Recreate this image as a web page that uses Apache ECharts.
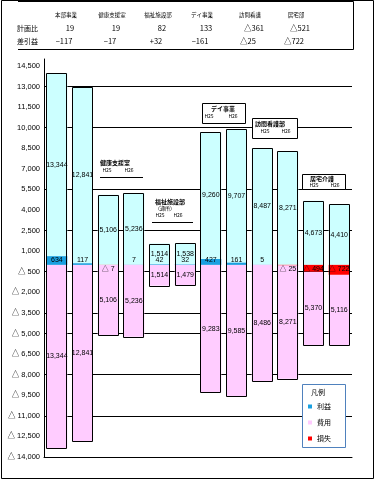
<!DOCTYPE html>
<html><head><meta charset="utf-8">
<script src="https://cdn.jsdelivr.net/npm/echarts@6/dist/echarts.min.js"></script>
<style>html,body{margin:0;padding:0;background:#fff}#c{width:377px;height:480px}</style>
</head><body><div id="c"></div>
<script>
// ---- data ----
const categories = ['本部H25','本部H26','健康H25','健康H26','福祉H25','福祉H26','デイH25','デイH26','訪看H25','訪看H26','居宅H25','居宅H26'];
const profit      = [634, 117, null, 7, 42, 32, 427, 161, 5, null, null, null];
const revenuePart = [13344, 12841, 5106, 5236, 1514, 1538, 9260, 9707, 8487, 8271, 4673, 4410];
const loss        = [null, null, -7, null, null, null, null, null, null, -25, -494, -722];
const costPart    = [-13344, -12841, -5106, -5236, -1514, -1479, -9283, -9585, -8486, -8271, -5370, -5116];
const yTicks = [14500, 13000, 11500, 10000, 8500, 7000, 5500, 4000, 2500, 1000, -500, -2000, -3500, -5000, -6500, -8000, -9500, -11000, -12500, -14000];
const gridValues = [13000, 10000, 5500, 2500, -500, -3500, -5000, -8000, -11000];
const tableHeaders = ['本部事業', '健康支援室', '福祉施設部', 'デイ事業', '訪問看護', '居宅部'];
const tableRowLabels = ['計画比', '差引益'];
const tableRow1 = ['19', '19', '82', '133', '△361', '△521'];
const tableRow2 = ['−117', '−17', '+32', '−161', '△25', '△722'];
const legendNames = ['利益', '費用', '損失'];
const legendTitle = '凡例';
const yearLabels = ['H25', 'H26'];

// ---- helpers ----
const NUMF = '"Liberation Sans","Noto Sans CJK JP",sans-serif';
const JPF = '"Noto Sans CJK JP",sans-serif';
const fmt = n => String(Math.abs(n)).replace(/\B(?=(\d{3})+(?!\d))/g, ',');
const tri = n => (n < 0 ? '△ ' : '') + fmt(n);

function txt(t, x, y, size, align, opts) {
  return Object.assign({type: 'text', z: 20, silent: true,
    style: {text: t, x: x, y: y, fill: '#000', fontSize: size, fontFamily: JPF,
      align: align || 'center', verticalAlign: 'middle'}}, opts || {});
}
function line(x1, y1, x2, y2) {
  return {type: 'line', z: 20, silent: true, shape: {x1, y1, x2, y2}, style: {stroke: '#000', lineWidth: 1}};
}
function box(x, y, w, h, stroke) {
  return {type: 'rect', z: 3, silent: true, shape: {x, y, width: w, height: h},
    style: {fill: '#fff', stroke: stroke || '#000', lineWidth: 1}};
}

const graphics = [];
// outer frame
graphics.push({type: 'rect', z: 30, silent: true, shape: {x: 1.5, y: 0.5, width: 372, height: 478}, style: {fill: 'none', stroke: '#000', lineWidth: 1}});
// top table
graphics.push({type: 'polyline', z: 20, silent: true, shape: {points: [[18, 1.5], [353.5, 1.5], [353.5, 49.5], [18, 49.5]]}, style: {fill: 'none', stroke: '#000', lineWidth: 1}});
const colX = [66, 112, 158, 202, 250, 296];
tableHeaders.forEach((h, i) => graphics.push(txt(h, colX[i], 15, 5.5)));
graphics.push(txt(tableRowLabels[0], 17, 28, 7, 'left'));
graphics.push(txt(tableRowLabels[1], 17, 41, 7, 'left'));
tableRow1.forEach((v, i) => graphics.push(txt(v, colX[i] + 4, 28, 7.5)));
tableRow2.forEach((v, i) => graphics.push(txt(v, colX[i] - 2, 41, 7.5)));

// group labels
// group 2
graphics.push(txt('健康支援室', 100, 163, 6, 'left', {style: {text: '健康支援室', x: 100, y: 163, fill: '#000', fontSize: 6, fontWeight: 'bold', fontFamily: JPF, align: 'left', verticalAlign: 'middle'}}));
graphics.push(txt(yearLabels[0], 107, 170.5, 5));
graphics.push(txt(yearLabels[1], 129, 170.5, 5));
graphics.push(line(100, 177.5, 143, 177.5));
// group 3
graphics.push(txt('福祉施設部', 155, 202, 6, 'left', {style: {text: '福祉施設部', x: 155, y: 202, fill: '#000', fontSize: 6, fontWeight: 'bold', fontFamily: JPF, align: 'left', verticalAlign: 'middle'}}));
graphics.push(txt('（通所）', 155, 208.5, 5, 'left'));
graphics.push(txt(yearLabels[0], 160, 215, 5));
graphics.push(txt(yearLabels[1], 178, 215, 5));
graphics.push(line(152, 222.5, 193, 222.5));
// group 4 box
graphics.push(box(202.5, 103.5, 43, 20));
graphics.push(txt('デイ事業', 223, 108.5, 6, 'center', {style: {text: 'デイ事業', x: 223, y: 108.5, fill: '#000', fontSize: 6, fontWeight: 'bold', fontFamily: JPF, align: 'center', verticalAlign: 'middle'}}));
graphics.push(txt(yearLabels[0], 209, 116.5, 5));
graphics.push(txt(yearLabels[1], 233, 116.5, 5));
// group 5 box
graphics.push(box(252.5, 118.5, 45, 20));
graphics.push(txt('訪問看護部', 255, 123.5, 6, 'left', {style: {text: '訪問看護部', x: 255, y: 123.5, fill: '#000', fontSize: 6, fontWeight: 'bold', fontFamily: JPF, align: 'left', verticalAlign: 'middle'}}));
graphics.push(txt(yearLabels[0], 265, 131.5, 5));
graphics.push(txt(yearLabels[1], 286, 131.5, 5));
// group 6 box
graphics.push(box(302.5, 174.5, 43, 15));
graphics.push(txt('居宅介護', 322, 179, 6, 'center', {style: {text: '居宅介護', x: 322, y: 179, fill: '#000', fontSize: 6, fontWeight: 'bold', fontFamily: JPF, align: 'center', verticalAlign: 'middle'}}));
graphics.push(txt(yearLabels[0], 314, 185.5, 5));
graphics.push(txt(yearLabels[1], 335, 185.5, 5));
// legend box
graphics.push(box(302.5, 384.5, 43, 63, '#4f81bd'));
graphics.push(txt(legendTitle, 311, 392, 7, 'left'));

const outlineData = categories.map((c, i) => [i, (revenuePart[i] || 0) + (profit[i] || 0), (costPart[i] || 0) + (loss[i] || 0)]);

const labelBase = {show: true, fontSize: 7, color: '#000', fontFamily: NUMF};

const chart = echarts.init(document.getElementById('c'), null, {renderer: 'canvas'});
chart.setOption({
  animation: false,
  backgroundColor: '#fff',
  grid: {left: 44, right: 25, top: 59, bottom: 23, containLabel: false},
  graphic: graphics,
  legend: {
    data: legendNames, orient: 'vertical', left: 308, top: 402, itemWidth: 4, itemHeight: 4,
    itemGap: 7, icon: 'rect', padding: 0, z: 5,
    textStyle: {fontSize: 7, lineHeight: 9, color: '#000', fontFamily: JPF}
  },
  xAxis: {
    type: 'category', data: categories,
    axisLine: {show: true, onZero: false, lineStyle: {color: '#000', width: 1}},
    axisTick: {show: false}, axisLabel: {show: false}, splitLine: {show: false}
  },
  yAxis: {
    type: 'value', min: -14000, max: 15000,
    axisLine: {show: true, lineStyle: {color: '#000', width: 1}},
    axisTick: {show: false}, splitLine: {show: false},
    axisLabel: {customValues: yTicks, fontSize: 7.5, color: '#000', fontFamily: NUMF, margin: 4, formatter: v => tri(v)}
  },
  series: [
    {name: '利益', type: 'bar', stack: 'total', barWidth: 21, z: 3, data: profit,
      itemStyle: {color: '#1aa0e0'},
      label: Object.assign({}, labelBase, {position: 'insideBottom', distance: 1, formatter: p => fmt(p.value)}),
      markLine: {silent: true, z: 1, symbol: ['none', 'none'], label: {show: false},
        lineStyle: {color: '#000', width: 1, type: 'solid'},
        data: gridValues.map(v => ({yAxis: v}))}
    },
    {name: '収益', type: 'bar', stack: 'total', barWidth: 21, z: 2, data: revenuePart,
      itemStyle: {color: '#ccffff'},
      label: Object.assign({}, labelBase, {position: 'inside', formatter: p => fmt(p.value)})
    },
    {name: '損失', type: 'bar', stack: 'total', barWidth: 21, z: 3, data: loss,
      itemStyle: {color: '#ff0000'},
      label: Object.assign({}, labelBase, {position: 'insideTop', distance: 1, formatter: p => tri(p.value)})
    },
    {name: '費用', type: 'bar', stack: 'total', barWidth: 21, z: 2, data: costPart,
      itemStyle: {color: '#ffccff'},
      label: Object.assign({}, labelBase, {position: 'inside', formatter: p => fmt(p.value)})
    },
    {name: 'outline', type: 'custom', z: 4, silent: true, data: outlineData,
      encode: {x: 0, y: [1, 2]},
      renderItem: (params, api) => {
        const i = api.value(0);
        const t = api.coord([i, api.value(1)]);
        const b = api.coord([i, api.value(2)]);
        const x = Math.round(t[0] - 10.5) + 0.5;
        const y = Math.round(t[1]) + 0.5;
        return {type: 'rect', shape: {x: x, y: y, width: 20, height: Math.round(b[1]) - Math.round(t[1])},
          style: {fill: 'none', stroke: '#000', lineWidth: 1}};
      }
    }
  ]
});
</script></body></html>
